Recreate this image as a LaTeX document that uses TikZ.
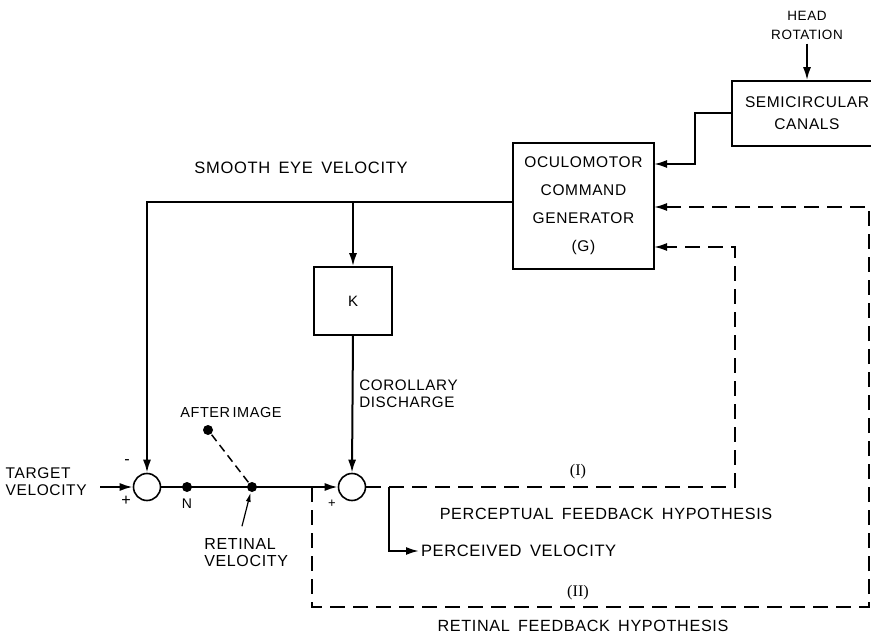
\documentclass[tikz,border=0pt]{standalone}
\usepackage{fontspec}
\setmainfont{Liberation Sans}[LetterSpace=4, WordSpace=1.6]
\newfontfamily\romfont{Liberation Serif}
\usetikzlibrary{arrows.meta}

\begin{document}
\begin{tikzpicture}[x = 1pt, y = -1pt, line width = 2pt,
    font = \fontsize{16.2}{19}\selectfont,
    >={Latex[length=13pt, width=8pt]},
    block/.style = {draw, line width = 1.6pt, align = center, inner sep = 0pt},
    sumnode/.style = {draw, circle, line width = 1.6pt, minimum size = 27pt, inner sep = 0pt},
    dotnode/.style = {circle, fill, minimum size = 10pt, inner sep = 0pt},
    fb/.style = {dash pattern = on 15pt off 8pt, dash phase = 0pt}]

    \useasboundingbox (0,0) rectangle (871,639);

    % blocks
    \node[block, minimum width = 141pt, minimum height = 126pt, font = \fontsize{15.5}{28}\selectfont] (gen) at (583.5,206) {OCULOMOTOR\\COMMAND\\GENERATOR\\(G)};
    \node[block, minimum width = 78pt, minimum height = 68pt, font = \fontsize{15}{17}\selectfont] (kbox) at (353,301) {K};
    \node[block, minimum width = 150pt, minimum height = 65pt, font = \fontsize{15.5}{22}\selectfont] (canals) at (807,113.5) {SEMICIRCULAR\\CANALS};

    \node[sumnode] (sum1) at (147,487) {};
    \node[sumnode] (sum2) at (352,487) {};

    \node[dotnode] (noise) at (187,487) {};
    \node[dotnode] (rv) at (252,487) {};
    \node[dotnode] (ai) at (208,430) {};

    \coordinate (tgt) at (100,487);
    \coordinate (eye) at ([yshift = 4pt]gen.west);
    \coordinate (pbr) at (389,487);
    \coordinate (rtap) at (312,487);
    \coordinate (pc) at (735,487);
    \coordinate (rc1) at (312,607);
    \coordinate (rc2) at (869,607);
    \coordinate (rc3) at (869,207);
    \coordinate (gin0) at (654,164);
    \coordinate (gin1) at (654,207);
    \coordinate (gin2) at (654,247);

    % labels
    \node[anchor = east, align = left, font = \fontsize{15.5}{17}\selectfont] (tgtlbl) at (91,482) {TARGET\\VELOCITY};
    \node (minus) at (127,462) {-};
    \node (plus1) at (126,501) {+};
    \node[font = \fontsize{13}{15}\selectfont] (plus2) at (332,504) {+};
    \node[font = \fontsize{14}{16}\selectfont] (nlbl) at (187,504) {N};
    \node[font = \fontsize{14.5}{16}\selectfont] (ailbl) at (231,413) {AFTER\,IMAGE};
    \node[anchor = north west, align = left, font = \fontsize{16}{17}\selectfont] (rvlbl) at (200,534) {RETINAL\\VELOCITY};
    \node[anchor = west, align = left, font = \fontsize{15.2}{17}\selectfont] (cdlbl) at (355,394) {COROLLARY\\DISCHARGE};
    \node[font = \fontsize{16.5}{19}\selectfont] (eyelbl) at (301,168) {SMOOTH EYE VELOCITY};
    \node[align = center, font = \fontsize{13.5}{19}\selectfont] (head) at (807,25) {HEAD\\ROTATION};
    \node (p1lbl) at (578,472) {\romfont (I)};
    \node (p2lbl) at (578,593) {\romfont (II)};
    \node (pfh) at (606,514) {PERCEPTUAL FEEDBACK HYPOTHESIS};
    \node (rfh) at (583,626) {RETINAL FEEDBACK HYPOTHESIS};
    \node[anchor = west, inner sep = 1pt, font = \fontsize{16.5}{19}\selectfont] (pv) at (419,551) {PERCEIVED VELOCITY};

    % connectors
    \draw[->] (tgt) -- (sum1.west);
    \draw[->] (eye) -| (sum1.north);
    \draw[->] (eye -| kbox.north) -- (kbox.north);
    \draw[->] (kbox.south) -- (sum2.north);
    \draw[->] (sum1.east) -- (sum2.west);
    \draw[line width = 1.5pt, dash pattern = on 8pt off 5pt] (ai) -- (rv);
    \draw[-{Latex[length=9pt, width=5pt]}, line width = 1.2pt, shorten <= 8pt] ([xshift = 40pt]rvlbl.north west) -- (rv);
    \draw[->] (pbr) |- (pv.west);
    \draw[fb, ->] (sum2.east) -- (pc) |- (gin2);
    \draw[fb, ->] (rtap) -- (rc1) -- (rc2) -- (rc3) -- (gin1);
    \draw[->] (canals.west) -- ++(-36,0) |- (gin0);
    \draw[->] (head.south) -- (canals.north);

\end{tikzpicture}
\end{document}
